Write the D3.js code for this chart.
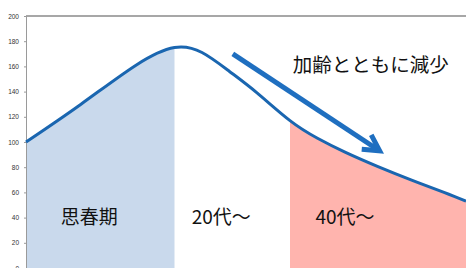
<!DOCTYPE html>
<html>
<head>
<meta charset="utf-8">
<script src="https://cdn.jsdelivr.net/npm/d3@7"></script>
<style>
  html, body { margin: 0; padding: 0; background: #fff; }
  svg { display: block; }
</style>
</head>
<body>
<div id="chart"></div>
<script>
  // age (arbitrary units along x) and level
  var ages   = [0, 10, 20, 27, 32, 37, 42, 48, 53, 58, 64, 70, 76, 80];
  var levels = [100, 130, 161, 175, 171, 156, 139, 117, 103, 92, 80.5, 70, 60, 53];

  var yTicks = [0, 20, 40, 60, 80, 100, 120, 140, 160, 180, 200];

  // shaded periods
  var periods = [
    {name: '思春期', from: 0,  to: 27, fill: '#c9d9ec', labelAt: 11.5},
    {name: '20代〜', from: 27, to: 48, fill: 'none',    labelAt: 35.5},
    {name: '40代〜', from: 48, to: 80, fill: '#ffb4ae', labelAt: 58}
  ];
  var labelLevel = 39;

  var note = '加齢とともに減少';
  var noteAt = [62.7, 160];
  var arrowFrom = [37.6, 170];
  var arrowTo   = [64.3, 93];

  var width = 466, height = 268;
  var margin = {left: 26, top: 16, right: 0, bottom: 0};

  var svg = d3.select('#chart').append('svg')
    .attr('width', width)
    .attr('height', height);

  var x = d3.scaleLinear().domain([0, 80]).range([margin.left, width - margin.right]);
  var y = d3.scaleLinear().domain([0, 200]).range([height - margin.bottom, margin.top]);

  var pts = ages.map(function(a, i){ return [a, levels[i]]; });
  var curve = d3.curveNatural;

  var defs = svg.append('defs');
  periods.forEach(function(p, i){
    defs.append('clipPath').attr('id', 'clip' + i)
      .append('rect')
        .attr('x', x(p.from)).attr('y', 0)
        .attr('width', x(p.to) - x(p.from)).attr('height', height);
  });

  var area = d3.area()
    .x(d => x(d[0])).y0(y(0)).y1(d => y(d[1]))
    .curve(curve);

  periods.forEach(function(p, i){
    if(p.fill === 'none') return;
    svg.append('path')
      .datum(pts)
      .attr('clip-path', 'url(#clip' + i + ')')
      .attr('fill', p.fill)
      .attr('d', area);
  });

  // top frame line and left axis
  svg.append('line')
    .attr('x1', x(0)).attr('x2', width)
    .attr('y1', y(200)).attr('y2', y(200))
    .attr('stroke', '#8a8a8a').attr('stroke-width', 1.5);

  var axis = svg.append('g')
    .attr('transform', 'translate(' + x(0) + ',0)')
    .call(d3.axisLeft(y).tickValues(yTicks).tickSize(2).tickPadding(5));
  axis.select('.domain').attr('stroke', '#9a9a9a');
  axis.selectAll('.tick line').attr('stroke', '#9a9a9a');
  axis.selectAll('text')
    .attr('fill', '#333')
    .style('font-family', 'Liberation Sans, Arial, sans-serif')
    .style('font-size', '6.5px');

  var line = d3.line()
    .x(d => x(d[0])).y(d => y(d[1]))
    .curve(curve);

  svg.append('path')
    .datum(pts)
    .attr('fill', 'none')
    .attr('stroke', '#1a66b0')
    .attr('stroke-width', 3)
    .attr('d', line);

  // period labels
  svg.selectAll('.period')
    .data(periods)
    .enter().append('text')
      .attr('class', 'period')
      .attr('x', d => x(d.labelAt))
      .attr('y', y(labelLevel))
      .attr('text-anchor', 'middle')
      .attr('dominant-baseline', 'middle')
      .attr('fill', '#111')
      .style('font-family', 'Noto Sans CJK JP, sans-serif')
      .style('font-size', '19px')
      .text(d => d.name);

  // annotation arrow
  var ax0 = x(arrowFrom[0]), ay0 = y(arrowFrom[1]);
  var ax1 = x(arrowTo[0]), ay1 = y(arrowTo[1]);
  var ang = Math.atan2(ay1 - ay0, ax1 - ax0);
  var head = 18, spread = 0.5;
  svg.append('line')
    .attr('x1', ax0).attr('y1', ay0)
    .attr('x2', ax1 - 2 * Math.cos(ang)).attr('y2', ay1 - 2 * Math.sin(ang))
    .attr('stroke', '#1f6fc0').attr('stroke-width', 5);
  svg.append('path')
    .attr('d', 'M' + (ax1 - head * Math.cos(ang - spread)) + ',' + (ay1 - head * Math.sin(ang - spread))
      + 'L' + ax1 + ',' + ay1
      + 'L' + (ax1 - head * Math.cos(ang + spread)) + ',' + (ay1 - head * Math.sin(ang + spread)))
    .attr('fill', 'none')
    .attr('stroke', '#1f6fc0').attr('stroke-width', 5)
    .attr('stroke-linejoin', 'miter');

  svg.append('text')
    .attr('x', x(noteAt[0]))
    .attr('y', y(noteAt[1]))
    .attr('text-anchor', 'middle')
    .attr('dominant-baseline', 'middle')
    .attr('fill', '#111')
    .style('font-family', 'Noto Sans CJK JP, sans-serif')
    .style('font-size', '19.5px')
    .text(note);
</script>
</body>
</html>
